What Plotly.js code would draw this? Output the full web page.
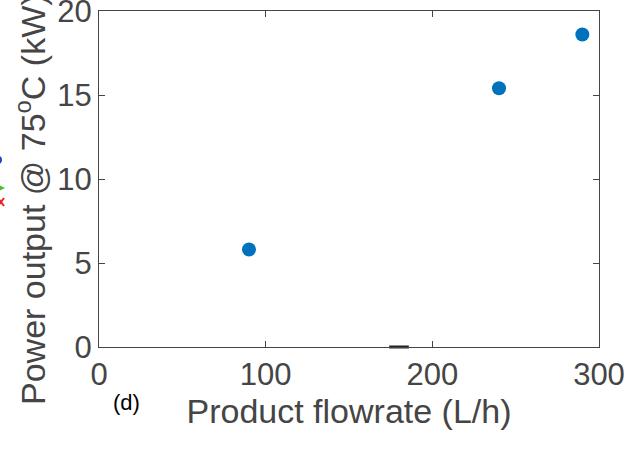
<!DOCTYPE html>
<html>
<head>
<meta charset="utf-8">
<script src="https://cdn.plot.ly/plotly-3.0.1.min.js"></script>
<style>html,body{margin:0;padding:0;background:#fff;}#chart{width:635px;height:450px;}</style>
</head>
<body>
<div id="chart"></div>
<script>
// Data
const flowrate = [90, 240, 290];          // Product flowrate (L/h)
const power = [5.8, 15.4, 18.6];          // Power output @ 75°C (kW)
const strayX = [180];                     // partially visible dark marker
const strayY = [0];
const xTicks = [0, 100, 200, 300];
const yTicks = [0, 5, 10, 15, 20];

const FONT = 'Liberation Sans, Arial, sans-serif';
const AX = '#454545';

const traces = [
  {
    x: flowrate, y: power, type: 'scatter', mode: 'markers',
    marker: {color: '#0072BD', size: 14},
    showlegend: false, hoverinfo: 'skip'
  },
  {
    x: strayX, y: strayY, type: 'scatter', mode: 'markers',
    marker: {symbol: 'line-ew', size: 14, color: '#222', line: {color: '#222', width: 3}},
    cliponaxis: false, showlegend: false, hoverinfo: 'skip'
  }
];

// pixel -> paper helpers (plot area: x 99..599, y 11..347)
const px = v => (v - 99) / 500;
const py = v => 1 - (v - 11) / 336;

const layout = {
  width: 635, height: 450,
  margin: {l: 99, r: 36, t: 11, b: 103, pad: 0},
  paper_bgcolor: '#fff', plot_bgcolor: '#fff',
  font: {family: FONT, color: AX},
  xaxis: {
    range: [0, 300], tickvals: xTicks, ticktext: xTicks.map(String),
    showgrid: false, zeroline: false,
    showline: true, linecolor: AX, linewidth: 1, mirror: 'ticks',
    ticks: 'inside', ticklen: 6, tickcolor: AX, ticklabeloverflow: 'allow',
    tickfont: {size: 31, color: AX, family: FONT},
    title: {text: 'Product flowrate (L/h)', font: {size: 34, color: AX, family: FONT}, standoff: 4}
  },
  yaxis: {
    range: [0, 20], tickvals: yTicks, ticktext: yTicks.map(String),
    showgrid: false, zeroline: false,
    showline: true, linecolor: AX, linewidth: 1, mirror: 'ticks',
    ticks: 'inside', ticklen: 6, tickcolor: AX, ticklabeloverflow: 'allow',
    tickfont: {size: 31, color: AX, family: FONT}
  },
  annotations: [
    {
      text: 'Power output @ 75<sup>o</sup>C (kW)', textangle: -90,
      xref: 'paper', yref: 'paper', x: px(30), y: py(200),
      xanchor: 'center', yanchor: 'middle', showarrow: false,
      font: {size: 34, color: AX, family: FONT}
    },
    {
      text: '(d)', xref: 'paper', yref: 'paper', x: px(126), y: py(402),
      xanchor: 'center', yanchor: 'middle', showarrow: false,
      font: {size: 22, color: '#000', family: FONT}
    }
  ],
  shapes: [
    // cut-off legend markers of a neighbouring panel at the left edge
    {type: 'circle', xref: 'paper', yref: 'paper', x0: px(-6), x1: px(2), y0: py(164), y1: py(156),
     fillcolor: '#2040C0', line: {width: 0}},
    {type: 'path', xref: 'paper', yref: 'paper',
     path: 'M ' + px(-3) + ' ' + py(184) + ' L ' + px(5) + ' ' + py(188) + ' L ' + px(-3) + ' ' + py(192) + ' Z',
     fillcolor: '#4DBE2E', line: {width: 0}},
    {type: 'line', xref: 'paper', yref: 'paper', x0: px(-2), y0: py(198), x1: px(4), y1: py(206),
     line: {color: '#E82020', width: 2}},
    {type: 'line', xref: 'paper', yref: 'paper', x0: px(-2), y0: py(206), x1: px(4), y1: py(198),
     line: {color: '#E82020', width: 2}}
  ]
};

Plotly.newPlot('chart', traces, layout, {staticPlot: true, displayModeBar: false});
</script>
</body>
</html>
